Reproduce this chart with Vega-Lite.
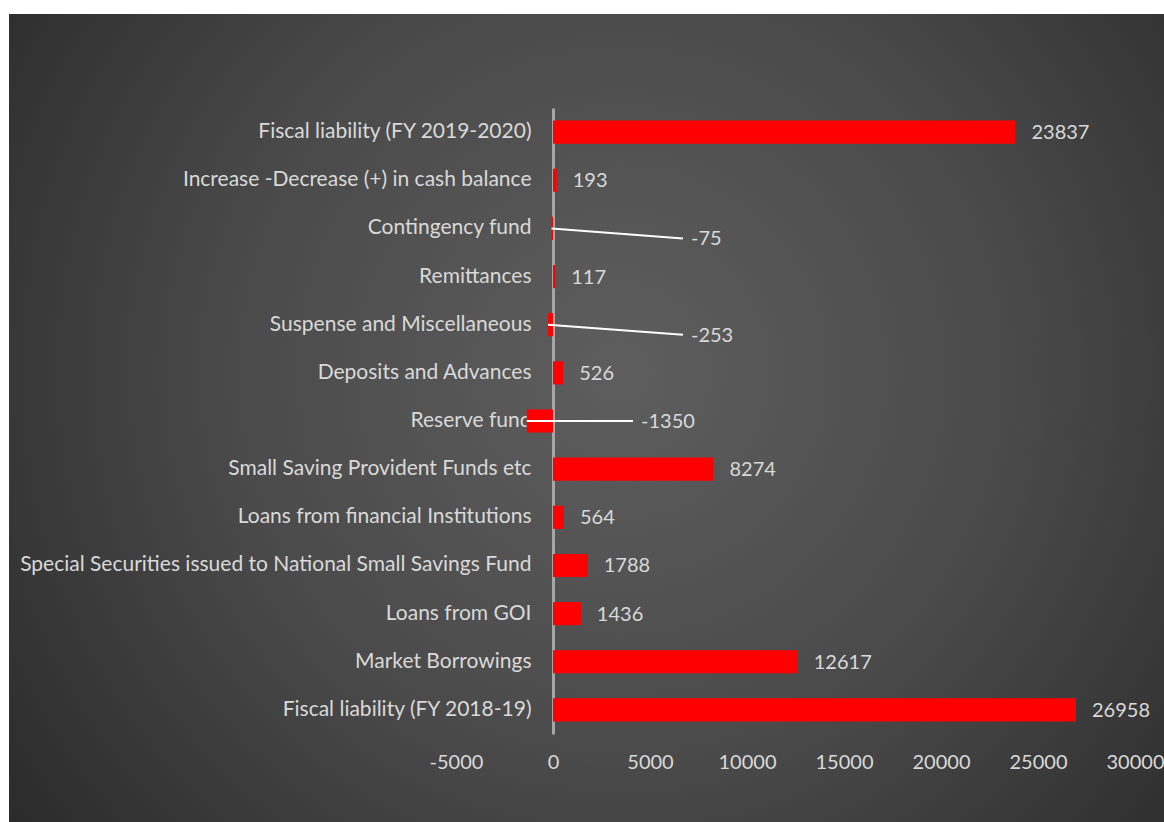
{
  "$schema": "https://vega.github.io/schema/vega-lite/v6.json",
  "autosize": {"type": "none"},
  "width": 1155,
  "height": 808,
  "padding": {"left": 9, "top": 14, "right": 0, "bottom": 0},
  "background": "#ffffff",
  "config": {
    "font": "Lato",
    "view": {
      "stroke": null,
      "fill": {
        "gradient": "radial",
        "x1": 0.53, "y1": 0.46, "r1": 0,
        "x2": 0.53, "y2": 0.46, "r2": 0.75,
        "stops": [
          {"offset": 0, "color": "#5e5e5e"},
          {"offset": 0.45, "color": "#4a4a4a"},
          {"offset": 1, "color": "#222222"}
        ]
      }
    }
  },
  "data": {
    "values": [
      {"cat": "Fiscal liability (FY 2019-2020)", "value": 23837},
      {"cat": "Increase -Decrease (+) in cash balance", "value": 193},
      {"cat": "Contingency fund", "value": -75},
      {"cat": "Remittances", "value": 117},
      {"cat": "Suspense and Miscellaneous", "value": -253},
      {"cat": "Deposits and Advances", "value": 526},
      {"cat": "Reserve fund", "value": -1350},
      {"cat": "Small Saving Provident Funds etc", "value": 8274},
      {"cat": "Loans from financial Institutions", "value": 564},
      {"cat": "Special Securities issued to National Small Savings Fund", "value": 1788},
      {"cat": "Loans from GOI", "value": 1436},
      {"cat": "Market Borrowings", "value": 12617},
      {"cat": "Fiscal liability (FY 2018-19)", "value": 26958}
    ]
  },
  "encoding": {
    "y": {
      "field": "cat",
      "type": "nominal",
      "sort": null,
      "scale": {"range": [94, 720], "paddingInner": 0.52, "paddingOuter": 0.26},
      "axis": {
        "title": null,
        "offset": -544,
        "domain": true,
        "domainColor": "#a6a6a6",
        "domainWidth": 3,
        "ticks": false,
        "grid": false,
        "labelPadding": 22,
        "labelFontSize": 21,
        "labelColor": "#d9d9d9",
        "labelFont": "Lato",
        "labelLimit": 0
      }
    }
  },
  "layer": [
    {
      "mark": {"type": "bar", "color": "#ff0000"},
      "encoding": {
        "x": {
          "field": "value",
          "type": "quantitative",
          "scale": {"domain": [-5000, 30000], "range": [447, 1126], "nice": false, "zero": false},
          "axis": {
            "title": null,
            "values": [-5000, 0, 5000, 10000, 15000, 20000, 25000, 30000],
            "labelExpr": "'' + datum.value",
            "labelFlush": false,
            "labelOverlap": false,
            "offset": -89,
            "domain": false,
            "ticks": false,
            "grid": false,
            "labelPadding": 19,
            "labelFontSize": 20,
            "labelColor": "#d9d9d9",
            "labelFont": "Lato"
          }
        }
      }
    },
    {
      "transform": [{"filter": "datum.value > 0"}],
      "mark": {"type": "text", "align": "left", "baseline": "middle", "dx": 16, "dy": 1, "fontSize": 20, "color": "#d9d9d9", "font": "Lato"},
      "encoding": {
        "x": {"field": "value", "type": "quantitative"},
        "text": {"field": "value", "type": "nominal"}
      }
    },
    {
      "transform": [{"filter": "datum.cat == 'Contingency fund' || datum.cat == 'Suspense and Miscellaneous'"}],
      "mark": {"type": "rule", "color": "#ffffff", "strokeWidth": 2, "y2Offset": 10},
      "encoding": {
        "x": {"field": "value", "type": "quantitative"},
        "x2": {"datum": 6700},
        "y2": {"field": "cat"}
      }
    },
    {
      "transform": [{"filter": "datum.cat == 'Contingency fund' || datum.cat == 'Suspense and Miscellaneous'"}],
      "mark": {"type": "text", "align": "left", "baseline": "middle", "dx": 8, "dy": 11, "fontSize": 20, "color": "#d9d9d9", "font": "Lato"},
      "encoding": {
        "x": {"datum": 6700},
        "text": {"field": "value", "type": "nominal"}
      }
    },
    {
      "transform": [{"filter": "datum.cat == 'Reserve fund'"}],
      "mark": {"type": "rule", "color": "#ffffff", "strokeWidth": 2},
      "encoding": {
        "x": {"field": "value", "type": "quantitative"},
        "x2": {"datum": 4124}
      }
    },
    {
      "transform": [{"filter": "datum.cat == 'Reserve fund'"}],
      "mark": {"type": "text", "align": "left", "baseline": "middle", "dx": 8, "dy": 1, "fontSize": 20, "color": "#d9d9d9", "font": "Lato"},
      "encoding": {
        "x": {"datum": 4124},
        "text": {"field": "value", "type": "nominal"}
      }
    }
  ]
}
